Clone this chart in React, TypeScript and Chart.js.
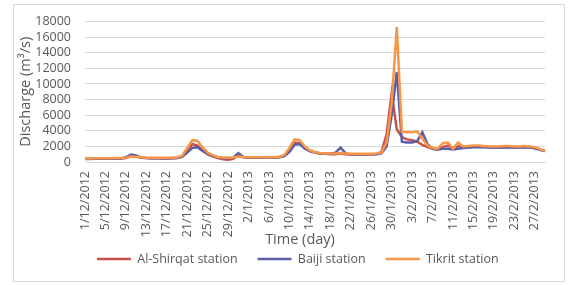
import React, { useEffect, useRef } from "react";
import { Chart, registerables } from "chart.js";

Chart.register(...registerables);

const days = [
  "1/12/2012", "2/12/2012", "3/12/2012", "4/12/2012", "5/12/2012", "6/12/2012", "7/12/2012", "8/12/2012",
  "9/12/2012", "10/12/2012", "11/12/2012", "12/12/2012", "13/12/2012", "14/12/2012", "15/12/2012", "16/12/2012",
  "17/12/2012", "18/12/2012", "19/12/2012", "20/12/2012", "21/12/2012", "22/12/2012", "23/12/2012", "24/12/2012",
  "25/12/2012", "26/12/2012", "27/12/2012", "28/12/2012", "29/12/2012", "30/12/2012", "31/12/2012",
  "1/1/2013", "2/1/2013", "3/1/2013", "4/1/2013", "5/1/2013", "6/1/2013", "7/1/2013", "8/1/2013",
  "9/1/2013", "10/1/2013", "11/1/2013", "12/1/2013", "13/1/2013", "14/1/2013", "15/1/2013", "16/1/2013",
  "17/1/2013", "18/1/2013", "19/1/2013", "20/1/2013", "21/1/2013", "22/1/2013", "23/1/2013", "24/1/2013",
  "25/1/2013", "26/1/2013", "27/1/2013", "28/1/2013", "29/1/2013", "30/1/2013", "31/1/2013",
  "1/2/2013", "2/2/2013", "3/2/2013", "4/2/2013", "5/2/2013", "6/2/2013", "7/2/2013", "8/2/2013",
  "9/2/2013", "10/2/2013", "11/2/2013", "12/2/2013", "13/2/2013", "14/2/2013", "15/2/2013", "16/2/2013",
  "17/2/2013", "18/2/2013", "19/2/2013", "20/2/2013", "21/2/2013", "22/2/2013", "23/2/2013", "24/2/2013",
  "25/2/2013", "26/2/2013", "27/2/2013", "28/2/2013", "1/3/2013",
];

const shirqat = [
  400, 400, 420, 420, 430, 430, 440, 450, 520,
  750, 700, 550, 500, 480, 470, 460, 460, 470, 500,
  700, 1400, 2300, 2100, 1500, 1000, 700, 500, 350, 300, 420,
  900, 600, 560, 550, 550, 560, 570, 580, 600,
  800, 1500, 2500, 2400, 1800, 1400, 1200, 1100, 1050, 1000, 1000,
  1100, 1000, 950, 950, 950, 950, 980, 1000,
  1300, 3500, 8800, 4200, 3200, 2900, 2800, 2600, 2200, 1900, 1700, 1600,
  1900, 2100, 1800, 2000, 1900,
  1900, 1950, 2000, 1950, 1900, 1900, 1850, 1900, 1900, 1850, 1900, 1950,
  1900, 1800, 1600, 1400,
];

const baiji = [
  420, 420, 430, 430, 440, 440, 450, 460, 600,
  950, 850, 560, 500, 490, 480, 470, 470, 480, 500,
  650, 1200, 1800, 1900, 1400, 1000, 800, 600, 520, 500, 550,
  1150, 650, 580, 560, 560, 570, 570, 580, 600,
  750, 1300, 2200, 2300, 1700, 1400, 1200, 1100, 1050, 1050, 1200,
  1850, 1100, 1000, 980, 980, 980, 1000, 1000,
  1100, 2000, 6000, 11500, 2600, 2500, 2500, 2700, 3800, 2300, 1700, 1600,
  1700, 1700, 1600, 1700, 1800,
  1850, 1900, 1900, 1900, 1850, 1850, 1850, 1850, 1900, 1850, 1850, 1900,
  1850, 1750, 1550, 1400,
];

const tikrit = [
  450, 460, 470, 480, 480, 490, 500, 510, 560,
  700, 680, 600, 550, 540, 530, 530, 540, 550, 580,
  800, 1800, 2800, 2700, 1900, 1200, 850, 650, 580, 560, 580,
  700, 650, 620, 610, 610, 620, 620, 630, 650,
  900, 1800, 2900, 2800, 2000, 1500, 1250, 1150, 1100, 1100, 1100,
  1150, 1100, 1050, 1050, 1050, 1050, 1060, 1080,
  1200, 2500, 7500, 17300, 3900, 3800, 3800, 3900, 3000, 2100, 1800, 1700,
  2400, 2500, 1700, 2500, 2000,
  2050, 2100, 2100, 2050, 2000, 2000, 2000, 2050, 2050, 2000, 2000, 2050,
  2000, 1900, 1650, 1450,
];

const seriesNames = ["Al-Shirqat station", "Baiji station", "Tikrit station"];
const yMax = 18000;
const yStep = 2000;
const labelEvery = 4;

const FONT = "'Open Sans', 'DejaVu Sans', sans-serif";
const TEXT = "#595959";
const GRID = "#d9d9d9";
const RED = "#c9524c";
const BLUE = "#5c5ea8";
const ORANGE = "#f79646";

export default function App() {
  const ref = useRef<HTMLCanvasElement>(null);

  useEffect(() => {
    document.body.style.margin = "0";
    const canvas = ref.current;
    if (!canvas) return;
    const legendFont = 12.5;

    const layoutPlugin = {
      id: "customLayout",
      afterLayout(chart: any) {
        const lg = chart.legend;
        if (lg) {
          const d = 97 - 20 - lg.left;
          lg.left += d;
          lg.right += d;
          const h = lg.bottom - lg.top;
          lg.top = 259 - 20 - legendFont / 2;
          lg.bottom = lg.top + h;
        }
      },
      afterDraw(chart: any) {
        const c = chart.ctx;
        c.save();
        c.font = `14.5px ${FONT}`;
        c.fillStyle = TEXT;
        c.textAlign = "center";
        c.textBaseline = "middle";
        c.fillText("Time (day)", 300, 240);
        c.restore();
      },
    };

    const mk = (i: number, data: number[], color: string, order: number) => ({
      label: seriesNames[i],
      data,
      borderColor: color,
      backgroundColor: color,
      borderWidth: 2.5,
      pointRadius: 0,
      pointHoverRadius: 0,
      pointStyle: "line",
      tension: 0,
      fill: false,
      order,
    });

    const chart = new Chart(canvas, {
      type: "line",
      data: {
        labels: days,
        datasets: [
          mk(0, shirqat, RED, 3),
          mk(1, baiji, BLUE, 2),
          mk(2, tikrit, ORANGE, 1),
        ] as any,
      },
      options: {
        animation: false,
        responsive: false,
        devicePixelRatio: 1,
        layout: { padding: { top: 15, right: 11, bottom: 0, left: 0 } },
        plugins: {
          tooltip: { enabled: false },
          legend: {
            position: "bottom",
            align: "start",
            labels: {
              usePointStyle: true,
              pointStyleWidth: 34,
              padding: 20,
              color: TEXT,
              font: { family: FONT, size: legendFont },
              sort: (a: any, b: any) => a.datasetIndex - b.datasetIndex,
            },
          },
        },
        scales: {
          x: {
            type: "category",
            offset: false,
            grid: { display: false, drawTicks: false },
            border: { display: true, color: GRID },
            ticks: {
              autoSkip: false,
              maxRotation: 90,
              minRotation: 90,
              padding: 9,
              color: TEXT,
              font: { family: FONT, size: 12.5 },
              callback: function (this: any, val: any, i: number) {
                return i % labelEvery === 0 ? this.getLabelForValue(val) : "";
              },
            },
            afterFit: (s: any) => {
              s.height = 80.5;
            },
          },
          y: {
            min: 0,
            max: yMax,
            grid: { color: GRID, drawTicks: false, lineWidth: 1 },
            border: { display: false },
            ticks: {
              stepSize: yStep,
              autoSkip: false,
              padding: 14,
              color: TEXT,
              font: { family: FONT, size: 12.5 },
              callback: (v: any) => String(v),
            },
            title: {
              display: true,
              text: "Discharge (m³/s)",
              color: TEXT,
              font: { family: FONT, size: 14.5 },
              padding: { top: 17, bottom: 0 },
            },
            afterFit: (s: any) => {
              s.width = 85;
            },
          },
        },
      },
      plugins: [layoutPlugin],
    } as any);

    return () => chart.destroy();
  }, []);

  return (
    <div style={{ position: "relative", width: 569, height: 285 }}>
      <div
        style={{
          position: "absolute",
          left: 13,
          top: 4,
          width: 552,
          height: 278,
          border: `1px solid ${GRID}`,
          boxSizing: "border-box",
        }}
      />
      <canvas
        ref={ref}
        width={569}
        height={285}
        style={{ position: "absolute", left: 0, top: 0, width: 569, height: 285 }}
      />
    </div>
  );
}
